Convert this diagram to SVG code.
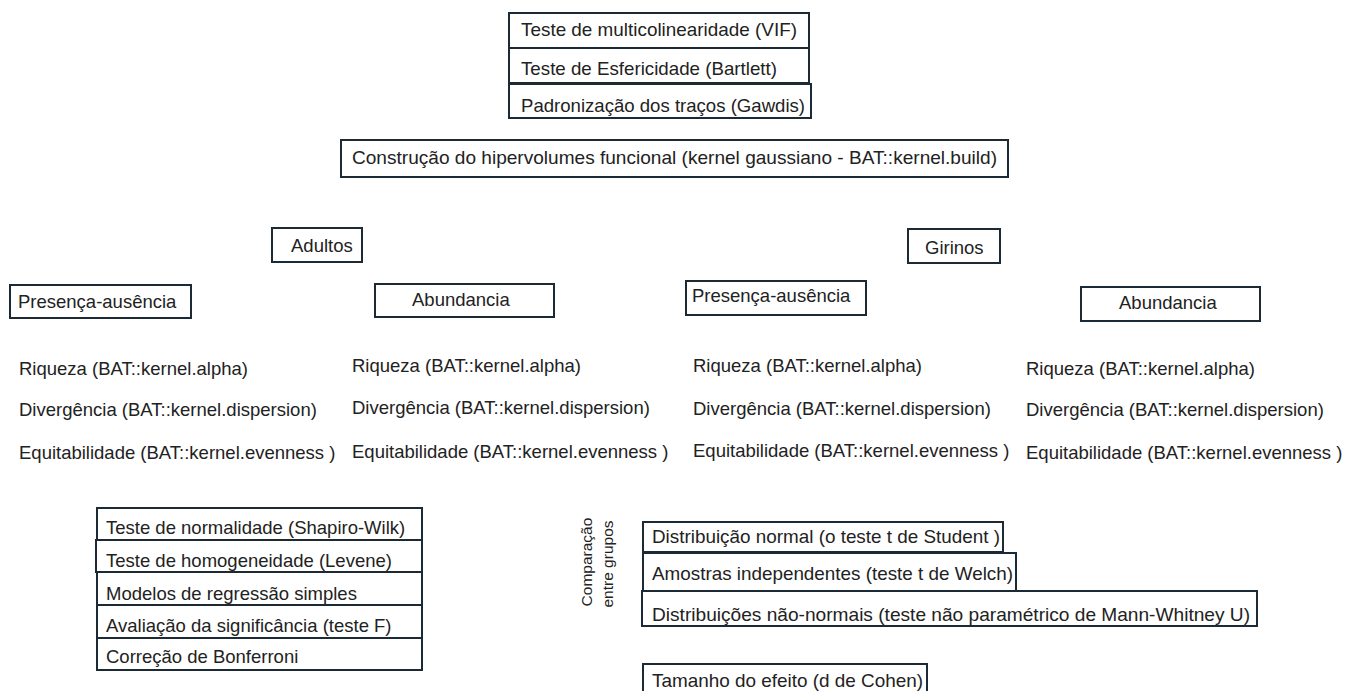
<svg xmlns="http://www.w3.org/2000/svg" width="1349" height="691" viewBox="0 0 1349 691">
<style>
  .box { fill: #ffffff; stroke: #1c2a35; stroke-width: 2; }
  .t { font-family: "Liberation Sans", Arial, sans-serif; font-size: 18.5px; fill: #222222; }
  .v { font-family: "Liberation Sans", Arial, sans-serif; font-size: 15.5px; fill: #222222; text-anchor: middle; }
</style>
<rect x="0" y="0" width="1349" height="691" fill="#ffffff"/>
<g id="connectors"></g>

<g id="vif"><rect class="box" x="509" y="13" width="300" height="35"/><text class="t" x="521" y="36" textLength="276" lengthAdjust="spacingAndGlyphs">Teste de multicolinearidade (VIF)</text></g>
<g id="bartlett"><rect class="box" x="509" y="48" width="300" height="35"/><text class="t" x="521" y="75" textLength="256" lengthAdjust="spacingAndGlyphs">Teste de Esfericidade (Bartlett)</text></g>
<g id="gawdis"><rect class="box" x="509" y="84" width="302" height="34"/><text class="t" x="521" y="112" textLength="284" lengthAdjust="spacingAndGlyphs">Padronização dos traços (Gawdis)</text></g>

<g id="hipervolume"><rect class="box" x="341" y="140" width="667" height="37"/><text class="t" x="352" y="164" textLength="645" lengthAdjust="spacingAndGlyphs">Construção do hipervolumes funcional (kernel gaussiano - BAT::kernel.build)</text></g>

<g id="adultos"><rect class="box" x="272" y="228" width="90" height="34"/><text class="t" x="291" y="252">Adultos</text></g>
<g id="girinos"><rect class="box" x="908" y="229" width="92" height="34"/><text class="t" x="925" y="254">Girinos</text></g>

<g id="pa-adultos"><rect class="box" x="10" y="285" width="181" height="33"/><text class="t" x="18" y="308">Presença-ausência</text></g>
<g id="ab-adultos"><rect class="box" x="375" y="284" width="179" height="33"/><text class="t" x="412" y="306">Abundancia</text></g>
<g id="pa-girinos"><rect class="box" x="686" y="281" width="180" height="34"/><text class="t" x="692" y="302">Presença-ausência</text></g>
<g id="ab-girinos"><rect class="box" x="1081" y="287" width="179" height="34"/><text class="t" x="1119" y="309">Abundancia</text></g>

<g id="metricas-pa-adultos">
  <text class="t" x="19" y="375">Riqueza (BAT::kernel.alpha)</text>
  <text class="t" x="19" y="416">Divergência (BAT::kernel.dispersion)</text>
  <text class="t" x="19" y="459">Equitabilidade (BAT::kernel.evenness )</text>
</g>
<g id="metricas-ab-adultos">
  <text class="t" x="352" y="372">Riqueza (BAT::kernel.alpha)</text>
  <text class="t" x="352" y="414">Divergência (BAT::kernel.dispersion)</text>
  <text class="t" x="352" y="458">Equitabilidade (BAT::kernel.evenness )</text>
</g>
<g id="metricas-pa-girinos">
  <text class="t" x="693" y="372">Riqueza (BAT::kernel.alpha)</text>
  <text class="t" x="693" y="415">Divergência (BAT::kernel.dispersion)</text>
  <text class="t" x="693" y="457">Equitabilidade (BAT::kernel.evenness )</text>
</g>
<g id="metricas-ab-girinos">
  <text class="t" x="1026" y="375">Riqueza (BAT::kernel.alpha)</text>
  <text class="t" x="1026" y="416">Divergência (BAT::kernel.dispersion)</text>
  <text class="t" x="1026" y="459">Equitabilidade (BAT::kernel.evenness )</text>
</g>

<g id="normalidade"><rect class="box" x="97" y="508" width="325" height="32"/><text class="t" x="106" y="534">Teste de normalidade (Shapiro-Wilk)</text></g>
<g id="levene"><rect class="box" x="96" y="540" width="326" height="32"/><text class="t" x="106" y="567">Teste de homogeneidade (Levene)</text></g>
<g id="regressao"><rect class="box" x="97" y="572" width="325" height="33"/><text class="t" x="106" y="600">Modelos de regressão simples</text></g>
<g id="teste-f"><rect class="box" x="97" y="605" width="325" height="33"/><text class="t" x="106" y="632">Avaliação da significância (teste F)</text></g>
<g id="bonferroni"><rect class="box" x="97" y="638" width="325" height="32"/><text class="t" x="106" y="663">Correção de Bonferroni</text></g>

<g id="comparacao">
  <text class="v" transform="translate(592,562) rotate(-90)">Comparação</text>
  <text class="v" transform="translate(613,564) rotate(-90)">entre grupos</text>
</g>

<g id="student"><rect class="box" x="643" y="522" width="360" height="30"/><text class="t" x="652" y="543" textLength="348" lengthAdjust="spacingAndGlyphs">Distribuição normal (o teste t de Student )</text></g>
<g id="welch"><rect class="box" x="643" y="553" width="373" height="38"/><text class="t" x="652" y="580" textLength="361" lengthAdjust="spacingAndGlyphs">Amostras independentes (teste t de Welch)</text></g>
<g id="mann-whitney"><rect class="box" x="642" y="591" width="615" height="35"/><text class="t" x="652" y="621" textLength="598" lengthAdjust="spacingAndGlyphs">Distribuições não-normais (teste não paramétrico de Mann-Whitney U)</text></g>
<g id="cohen"><rect class="box" x="643" y="664" width="284" height="28"/><text class="t" x="652" y="687" textLength="271" lengthAdjust="spacingAndGlyphs">Tamanho do efeito (d de Cohen)</text></g>
</svg>
